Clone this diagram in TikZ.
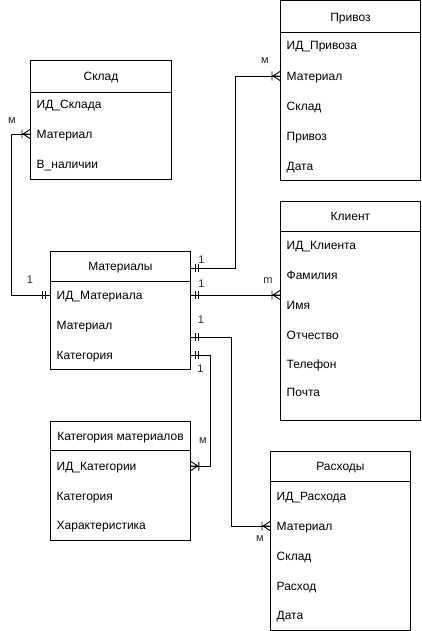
\documentclass[tikz,border=0pt]{standalone}
\usepackage{fontspec}
\setmainfont{Liberation Sans}
\begin{document}
\begin{tikzpicture}[x=1pt,y=-1pt,
  ent/.style={draw, line width=0.9pt, inner sep=0pt, anchor=north west},
  sep/.style={line width=0.9pt},
  conn/.style={line width=0.9pt},
  row/.style={inner sep=0pt, text height=8.6pt, text depth=0pt, anchor=west, font=\fontsize{12}{14}\selectfont},
  ttl/.style={inner sep=0pt, text height=8.6pt, text depth=0pt, anchor=center, font=\fontsize{12}{14}\selectfont},
  lbl/.style={inner sep=0pt, anchor=center, font=\fontsize{11}{13}\selectfont, text=black!85},
  one/.pic={\draw[conn] (-5,-4)--(-5,4) (-8,-4)--(-8,4);},
  many/.pic={\draw[conn] (0,-4.5)--(-7,0)--(0,4.5) (-7,0)--(0,0) (-8,-4.5)--(-8,4.5);}
]
\useasboundingbox (0,0) rectangle (421,631);

% Склад
\node[ent, minimum width=141pt, minimum height=119pt] (sklad) at (30,60) {};
\draw[sep] (sklad.west |- 0,92) -- (sklad.east |- 0,92);
\node[ttl] (skT) at (sklad.center |- 0,76) {Склад};
\node[row] (sk1) at (36.5,104) {ИД\_Склада};
\node[row] (sk2) at (36.5,134) {Материал};
\node[row] (sk3) at (36.5,164) {В\_наличии};

% Привоз
\node[ent, minimum width=140pt, minimum height=179.5pt] (priv) at (280,0.5) {};
\draw[sep] (priv.west |- 0,32) -- (priv.east |- 0,32);
\node[ttl] (pvT) at (priv.center |- 0,17) {Привоз};
\node[row] (pv1) at (286.5,45) {ИД\_Привоза};
\node[row] (pv2) at (286.5,76) {Материал};
\node[row] (pv3) at (286.5,106) {Склад};
\node[row] (pv4) at (286.5,136) {Привоз};
\node[row] (pv5) at (286.5,166) {Дата};

% Материалы
\node[ent, minimum width=140pt, minimum height=118pt] (mat) at (50,251) {};
\draw[sep] (mat.west |- 0,281) -- (mat.east |- 0,281);
\node[ttl] (mT) at (mat.center |- 0,266) {Материалы};
\node[row] (m1) at (56.5,295) {ИД\_Материала};
\node[row] (m2) at (56.5,325) {Материал};
\node[row] (m3) at (56.5,355) {Категория};

% Клиент
\node[ent, minimum width=140pt, minimum height=219pt] (kl) at (280,201) {};
\draw[sep] (kl.west |- 0,231) -- (kl.east |- 0,231);
\node[ttl] (kT) at (kl.center |- 0,216) {Клиент};
\node[row] (k1) at (286.5,245) {ИД\_Клиента};
\node[row] (k2) at (286.5,275.5) {Фамилия};
\node[row] (k3) at (286.5,305.5) {Имя};
\node[row] (k4) at (286.5,335.5) {Отчество};
\node[row] (k5) at (286.5,364.5) {Телефон};
\node[row] (k6) at (286.5,392.5) {Почта};

% Категория материалов
\node[ent, minimum width=140pt, minimum height=119pt] (kat) at (50,421) {};
\draw[sep] (kat.west |- 0,450) -- (kat.east |- 0,450);
\node[ttl] (ktT) at (kat.center |- 0,436) {Категория материалов};
\node[row] (kt1) at (56.5,466) {ИД\_Категории};
\node[row] (kt2) at (56.5,496) {Категория};
\node[row] (kt3) at (56.5,525) {Характеристика};

% Расходы
\node[ent, minimum width=140pt, minimum height=179pt] (ras) at (270,451) {};
\draw[sep] (ras.west |- 0,481) -- (ras.east |- 0,481);
\node[ttl] (rT) at (ras.center |- 0,466) {Расходы};
\node[row] (r1) at (276.5,496.5) {ИД\_Расхода};
\node[row] (r2) at (276.5,526) {Материал};
\node[row] (r3) at (276.5,556) {Склад};
\node[row] (r4) at (276.5,586) {Расход};
\node[row] (r5) at (276.5,615) {Дата};

% connection points on Материалы
\coordinate (mPriv) at (mat.east |- 0,268);
\coordinate (mRas) at (mat.east |- 0,337);
\coordinate (vSk) at (11,0);
\coordinate (vPriv) at (235,0);
\coordinate (vRas) at (231,0);
\coordinate (vKat) at (210,0);

% Склад -- Материалы
\draw[conn] (sklad.west |- sk2.west) -- (vSk |- sk2.west) -- (vSk |- m1.west) -- (mat.west |- m1.west);
\pic at (sklad.west |- sk2.west) {many};
\pic at (mat.west |- m1.west) {one};
\node[lbl] at (12,121) {м};
\node[lbl] at (30,280) {1};

% Привоз -- Материалы
\draw[conn] (mPriv) -- (vPriv |- mPriv) -- (vPriv |- pv2.west) -- (priv.west |- pv2.west);
\pic[xscale=-1] at (mPriv) {one};
\pic at (priv.west |- pv2.west) {many};
\node[lbl] at (201.5,260) {1};
\node[lbl] at (265,61) {м};

% Клиент -- Материалы
\draw[conn] (mat.east |- m1.west) -- (kl.west |- m1.west);
\pic[xscale=-1] at (mat.east |- m1.west) {one};
\pic at (kl.west |- m1.west) {many};
\node[lbl] at (201.5,284) {1};
\node[lbl] at (268,281) {m};

% Расходы -- Материалы
\draw[conn] (mRas) -- (vRas |- mRas) -- (vRas |- r2.west) -- (ras.west |- r2.west);
\pic[xscale=-1] at (mRas) {one};
\pic at (ras.west |- r2.west) {many};
\node[lbl] at (201,320) {1};
\node[lbl] at (260,539) {м};

% Категория -- Материалы
\draw[conn] (mat.east |- m3.west) -- (vKat |- m3.west) -- (vKat |- kt1.west) -- (kat.east |- kt1.west);
\pic[xscale=-1] at (mat.east |- m3.west) {one};
\pic[xscale=-1] at (kat.east |- kt1.west) {many};
\node[lbl] at (200.5,369) {1};
\node[lbl] at (203,441) {м};
\end{tikzpicture}
\end{document}
